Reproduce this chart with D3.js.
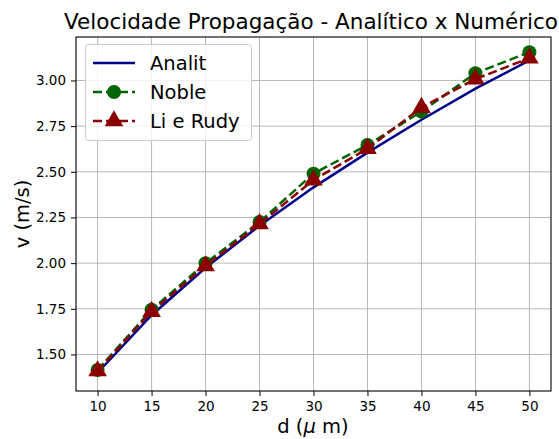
<!DOCTYPE html>
<html>
<head>
<meta charset="utf-8">
<script src="https://cdn.jsdelivr.net/npm/d3@7/dist/d3.min.js"></script>
<style>
  html, body { margin: 0; padding: 0; background: #fff; }
  svg { display: block; font-family: "DejaVu Sans", sans-serif; }
</style>
</head>
<body>
<svg id="chart" width="559" height="439"></svg>
<script>
const dValues = [10, 15, 20, 25, 30, 35, 40, 45, 50];
const analit = [1.40, 1.715, 1.975, 2.205, 2.415, 2.605, 2.785, 2.955, 3.11];
const noble = [1.415, 1.745, 2.00, 2.225, 2.49, 2.647, 2.83, 3.04, 3.155];
const liRudy = [1.41, 1.735, 1.985, 2.215, 2.455, 2.627, 2.852, 3.008, 3.122];
const xTicks = [10, 15, 20, 25, 30, 35, 40, 45, 50];
const yTicks = [1.50, 1.75, 2.00, 2.25, 2.50, 2.75, 3.00];
const seriesNames = ["Analit", "Noble", "Li e Rudy"];
const seriesColors = ["#00008b", "#006400", "#8b0000"];

const svg = d3.select("#chart");
const L = 76, R = 551, T = 37, B = 391;

const x = d3.scaleLinear().domain([8, 52]).range([L, R]);
const y = d3.scaleLinear().domain([1.30, 3.238]).range([B, T]);

// grid
const grid = svg.append("g");
grid.selectAll("line.gx").data(xTicks).join("line")
  .attr("x1", d => x(d)).attr("x2", d => x(d)).attr("y1", T).attr("y2", B)
  .attr("stroke", "#b0b0b0").attr("stroke-width", 0.9);
grid.selectAll("line.gy").data(yTicks).join("line")
  .attr("y1", d => y(d)).attr("y2", d => y(d)).attr("x1", L).attr("x2", R)
  .attr("stroke", "#b0b0b0").attr("stroke-width", 0.9);

// axes
const xAxis = d3.axisBottom(x).tickValues(xTicks).tickFormat(d3.format("d")).tickSize(5).tickPadding(5);
const yAxis = d3.axisLeft(y).tickValues(yTicks).tickFormat(d3.format(".2f")).tickSize(5).tickPadding(5);
const gx = svg.append("g").attr("transform", `translate(0,${B})`).call(xAxis);
const gy = svg.append("g").attr("transform", `translate(${L},0)`).call(yAxis);
[gx, gy].forEach(g => {
  g.select(".domain").remove();
  g.selectAll(".tick line").attr("stroke", "#000").attr("stroke-width", 1);
  g.selectAll(".tick text").attr("fill", "#000").style("font-size", "13.5px").style("font-family", "DejaVu Sans");
});

// lines
const lineGen = d3.line().x((d, i) => x(dValues[i])).y(d => y(d));
const LW = 2.5, DASH = "9,4";
svg.append("path").datum(analit).attr("d", lineGen)
  .attr("fill", "none").attr("stroke", seriesColors[0]).attr("stroke-width", LW);
svg.append("path").datum(noble).attr("d", lineGen)
  .attr("fill", "none").attr("stroke", seriesColors[1]).attr("stroke-width", LW)
  .attr("stroke-dasharray", DASH);
svg.selectAll("circle.noble").data(noble).join("circle")
  .attr("cx", (d, i) => x(dValues[i])).attr("cy", d => y(d)).attr("r", 7)
  .attr("fill", seriesColors[1]);
svg.append("path").datum(liRudy).attr("d", lineGen)
  .attr("fill", "none").attr("stroke", seriesColors[2]).attr("stroke-width", LW)
  .attr("stroke-dasharray", DASH);
const tri = d3.symbol().type(d3.symbolTriangle).size(150);
svg.selectAll("path.li").data(liRudy).join("path")
  .attr("d", tri)
  .attr("transform", (d, i) => `translate(${x(dValues[i])},${y(d)})`)
  .attr("fill", seriesColors[2]);

// frame
svg.append("rect").attr("x", L).attr("y", T).attr("width", R - L).attr("height", B - T)
  .attr("fill", "none").attr("stroke", "#000").attr("stroke-width", 1.1);

// title & labels
svg.append("text").attr("x", 311).attr("y", 29).attr("text-anchor", "middle")
  .style("font-size", "21.5px").text("Velocidade Propagação - Analítico x Numérico");
const xl = svg.append("text").attr("x", 313).attr("y", 433).attr("text-anchor", "middle")
  .style("font-size", "19.5px");
xl.append("tspan").text("d (");
xl.append("tspan").style("font-style", "italic").text("μ");
xl.append("tspan").text(" m)");
svg.append("text").attr("transform", `translate(29,${(T + B) / 2}) rotate(-90)`)
  .attr("text-anchor", "middle").style("font-size", "19.5px").text("v (m/s)");

// legend
const lg = svg.append("g");
lg.append("rect").attr("x", 85.5).attr("y", 44.5).attr("width", 166).attr("height", 96)
  .attr("rx", 3).attr("fill", "#fff").attr("fill-opacity", 0.8)
  .attr("stroke", "#cccccc").attr("stroke-width", 1);
const ly = [63, 92, 121];
seriesNames.forEach((name, i) => {
  const g = lg.append("g");
  const ln = g.append("line").attr("x1", 93).attr("x2", 135).attr("y1", ly[i]).attr("y2", ly[i])
    .attr("stroke", seriesColors[i]).attr("stroke-width", LW);
  if (i > 0) ln.attr("stroke-dasharray", DASH);
  if (i === 1) g.append("circle").attr("cx", 114).attr("cy", ly[i]).attr("r", 7).attr("fill", seriesColors[i]);
  if (i === 2) g.append("path").attr("d", tri).attr("transform", `translate(114,${ly[i]})`).attr("fill", seriesColors[i]);
  g.append("text").attr("x", 150).attr("y", ly[i] + 7).style("font-size", "19.5px").text(name);
});
</script>
</body>
</html>
